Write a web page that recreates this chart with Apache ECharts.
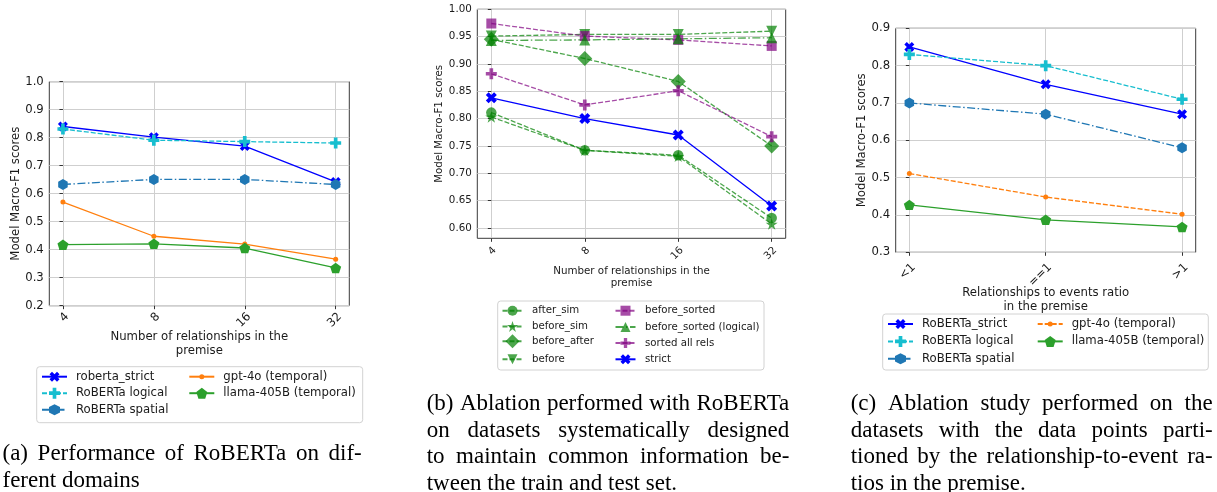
<!DOCTYPE html>
<html><head><meta charset="utf-8">
<script src="https://cdn.jsdelivr.net/npm/echarts@6/dist/echarts.min.js"></script>
<style>html,body{margin:0;padding:0;background:#fff}#c{width:1217px;height:492px}</style>
</head><body><div id="c"></div>
<script>
// ---------------- data ----------------
const relCounts = ['4', '8', '16', '32'];
const ratioCats = ['<1', '==1', '>1'];
const yTicksA = [0.2, 0.3, 0.4, 0.5, 0.6, 0.7, 0.8, 0.9, 1.0];
const yTicksB = [0.60, 0.65, 0.70, 0.75, 0.80, 0.85, 0.90, 0.95, 1.00];
const yTicksC = [0.3, 0.4, 0.5, 0.6, 0.7, 0.8, 0.9];

// (a) performance on different domains
const aRobertaStrict  = [0.840, 0.802, 0.770, 0.642];
const aRobertaLogical = [0.831, 0.791, 0.786, 0.781];
const aRobertaSpatial = [0.633, 0.651, 0.651, 0.633];
const aGpt4o          = [0.570, 0.448, 0.420, 0.366];
const aLlama          = [0.418, 0.421, 0.406, 0.335];

// (b) ablation
const bAfterSim             = [0.811, 0.742, 0.733, 0.618];
const bBeforeSim            = [0.803, 0.742, 0.731, 0.607];
const bBeforeAfter          = [0.945, 0.910, 0.868, 0.750];
const bBefore               = [0.951, 0.954, 0.954, 0.960];
const bBeforeSorted         = [0.974, 0.951, 0.944, 0.933];
const bBeforeSortedLogical  = [0.943, 0.944, 0.946, 0.948];
const bSortedAllRels        = [0.882, 0.825, 0.851, 0.767];
const bStrict               = [0.838, 0.800, 0.770, 0.640];

// (c) relationship-to-event ratio
const cRobertaStrict  = [0.850, 0.750, 0.670];
const cRobertaLogical = [0.830, 0.800, 0.710];
const cRobertaSpatial = [0.700, 0.670, 0.580];
const cGpt4o          = [0.511, 0.448, 0.402];
const cLlama          = [0.427, 0.387, 0.368];

// captions
const capA = ['(a) Performance of RoBERTa on dif-', 'ferent domains'];
const capB = ['(b) Ablation performed with RoBERTa', 'on datasets systematically designed',
              'to maintain common information be-', 'tween the train and test set.'];
const capC = ['(c) Ablation study performed on the', 'datasets with the data points parti-',
              'tioned by the relationship-to-event ra-', 'tios in the premise.'];

// ---------------- styling ----------------
const FONT = '"DejaVu Sans", sans-serif';
const TXT = '#1a1a1a';
const GRIDC = '#cfcfcf';
const SYM = {
  X: 'path://M1 0L2 1L3 0L4 1L3 2L4 3L3 4L2 3L1 4L0 3L1 2L0 1Z',
  P: 'path://M2 0L4 0L4 2L6 2L6 4L4 4L4 6L2 6L2 4L0 4L0 2L2 2Z',
  h: 'path://M0.866 0L1.732 0.5L1.732 1.5L0.866 2L0 1.5L0 0.5Z',
  p: 'path://M0.951 0L1.902 0.691L1.539 1.809L0.363 1.809L0 0.691Z',
  star: 'path://M0.951 0L1.176 0.691L1.902 0.691L1.314 1.118L1.539 1.809L0.951 1.382L0.363 1.809L0.588 1.118L0 0.691L0.727 0.691Z',
  v: 'path://M0 0L2 0L1 2Z',
  up: 'triangle', s: 'rect', D: 'diamond', o: 'circle'
};
const DASH = [5, 2];
const DASHDOT = [8, 2.5, 1.5, 2.5];

function mk(name, vals, gi, color, ltype, sym, size, op) {
  op = op == null ? 1 : op;
  return {
    type: 'line', name: name, xAxisIndex: gi, yAxisIndex: gi,
    data: vals.map((v, i) => [i, v]),
    symbol: SYM[sym], symbolSize: size, symbolKeepAspect: true, showAllSymbol: true,
    lineStyle: { color: color, width: 1.3, type: ltype, opacity: op },
    itemStyle: { color: color, opacity: op, borderWidth: 0 },
    emphasis: { disabled: true }, animation: false
  };
}

const grids = [
  { left: 49.3, top: 81.7, width: 300, height: 224 },
  { left: 477.3, top: 9.3, width: 308.4, height: 229 },
  { left: 895.7, top: 28.3, width: 300, height: 224 }
].map(g => Object.assign(g, { show: true, borderColor: '#3a3a3a', borderWidth: 1, backgroundColor: 'transparent', containLabel: false, outerBoundsMode: 'none' }));

function xAx(gi, cats, fs, margin, name, nameGap, lh) {
  const n = cats.length - 1;
  const pad = n * 0.05;
  const vals = cats.map((c, i) => i);
  return {
    type: 'value', gridIndex: gi, min: -pad, max: n + pad,
    axisLine: { show: false },
    axisTick: { show: true, customValues: vals, length: 3.5, lineStyle: { color: '#333', width: 1 } },
    axisLabel: { customValues: vals, formatter: v => cats[Math.round(v)], rotate: 45, align: 'right', verticalAlign: 'top',
                 margin: margin, fontSize: fs, fontFamily: FONT, color: TXT },
    splitLine: { show: true, lineStyle: { color: GRIDC, width: 1 } },
    name: name, nameLocation: 'middle', nameGap: nameGap, nameMoveOverlap: false,
    nameTextStyle: { fontSize: fs, fontFamily: FONT, color: TXT, lineHeight: lh, align: 'center' }
  };
}
function yAx(gi, ticks, min, max, digits, fs, nameGap) {
  return {
    type: 'value', gridIndex: gi, min: min, max: max,
    axisLine: { show: false },
    axisTick: { show: true, customValues: ticks, length: 3.5, lineStyle: { color: '#333', width: 1 } },
    axisLabel: { customValues: ticks, formatter: v => v.toFixed(digits), margin: 5.5, fontSize: fs, fontFamily: FONT, color: TXT },
    splitLine: { show: true, lineStyle: { color: GRIDC, width: 1 } },
    name: 'Model Macro-F1 scores', nameLocation: 'middle', nameGap: nameGap, nameMoveOverlap: false,
    nameTextStyle: { fontSize: fs, fontFamily: FONT, color: TXT }
  };
}

const FA = 11.7, FB = 10.3;
const xAxes = [
  xAx(0, relCounts, FA, 5, 'Number of relationships in the\npremise', 25, 13.3),
  xAx(1, relCounts, FB, 7, 'Number of relationships in the\npremise', 26.5, 12.3),
  xAx(2, ratioCats, FA, 9, 'Relationships to events ratio\nin the premise', 34.3, 13.4)
];
const yAxes = [
  yAx(0, yTicksA, 0.2, 1.0, 1, FA, 27),
  yAx(1, yTicksB, 0.581, 1.0, 2, FB, 33.3),
  yAx(2, yTicksC, 0.3, 0.9, 1, FA, 27.7)
];

const BLUE = '#0000ff', CYAN = '#17becf', TBLUE = '#1f77b4', ORANGE = '#ff7f0e', TGREEN = '#2ca02c';
const GREEN = '#008000', PURPLE = '#800080';
const series = [
  mk('roberta_strict', aRobertaStrict, 0, BLUE, 'solid', 'X', 10),
  mk('RoBERTa logical', aRobertaLogical, 0, CYAN, DASH, 'P', 11),
  mk('RoBERTa spatial', aRobertaSpatial, 0, TBLUE, DASHDOT, 'h', 11),
  mk('gpt-4o (temporal)', aGpt4o, 0, ORANGE, 'solid', 'o', 5),
  mk('llama-405B (temporal)', aLlama, 0, TGREEN, 'solid', 'p', 11),

  mk('after_sim', bAfterSim, 1, GREEN, DASH, 'o', 10.5, 0.7),
  mk('before_sim', bBeforeSim, 1, GREEN, DASH, 'star', 12, 0.7),
  mk('before_after', bBeforeAfter, 1, GREEN, DASH, 'D', 15, 0.7),
  mk('before', bBefore, 1, GREEN, DASH, 'v', 11, 0.7),
  mk('before_sorted', bBeforeSorted, 1, PURPLE, DASH, 's', 10, 0.7),
  mk('before_sorted (logical)', bBeforeSortedLogical, 1, GREEN, DASHDOT, 'up', 11, 0.7),
  mk('sorted all rels', bSortedAllRels, 1, PURPLE, DASH, 'P', 11, 0.7),
  mk('strict', bStrict, 1, BLUE, 'solid', 'X', 11),

  mk('RoBERTa_strict', cRobertaStrict, 2, BLUE, 'solid', 'X', 10),
  mk('RoBERTa logical', cRobertaLogical, 2, CYAN, DASH, 'P', 11),
  mk('RoBERTa spatial', cRobertaSpatial, 2, TBLUE, DASHDOT, 'h', 11),
  mk('gpt-4o (temporal) ', cGpt4o, 2, ORANGE, DASH, 'o', 5),
  mk('llama-405B (temporal)', cLlama, 2, TGREEN, 'solid', 'p', 11)
];

// legends: one component per entry for exact placement
function lg(name, x, cy, iw, markerSize, fs, pad) {
  const ih = markerSize / 0.8;
  const lh = fs * 1.25;
  const H = Math.max(ih, lh);
  return {
    data: [name], left: x, top: cy - H / 2, orient: 'horizontal', padding: 0, itemGap: 0,
    itemWidth: iw, itemHeight: ih, selectedMode: false, z: 5,
    formatter: n => n.trim(),
    textStyle: { fontSize: fs, fontFamily: FONT, color: TXT, lineHeight: lh, padding: [0, 0, 0, pad] }
  };
}
const legends = [
  lg('roberta_strict', 41, 376.7, 25, 10, FA, 4),
  lg('RoBERTa logical', 41, 393.2, 25, 11, FA, 4),
  lg('RoBERTa spatial', 41, 409.7, 25, 11, FA, 4),
  lg('gpt-4o (temporal)', 188.3, 376.7, 25, 5, FA, 4),
  lg('llama-405B (temporal)', 188.3, 393.2, 25, 11, FA, 4),

  lg('after_sim', 501.5, 310.7, 20, 10, 10.2, 4.5),
  lg('before_sim', 501.5, 326.9, 20, 11, 10.2, 4.5),
  lg('before_after', 501.5, 343.1, 20, 14, 10.2, 4.5),
  lg('before', 501.5, 359.3, 20, 10, 10.2, 4.5),
  lg('before_sorted', 614.5, 310.7, 20, 10, 10.2, 4.5),
  lg('before_sorted (logical)', 614.5, 326.9, 20, 10, 10.2, 4.5),
  lg('sorted all rels', 614.5, 343.1, 20, 10, 10.2, 4.5),
  lg('strict', 614.5, 359.3, 20, 10, 10.2, 4.5),

  lg('RoBERTa_strict', 887, 324, 25, 10, FA, 4),
  lg('RoBERTa logical', 887, 341.4, 25, 11, FA, 4),
  lg('RoBERTa spatial', 887, 358.7, 25, 11, FA, 4),
  lg('gpt-4o (temporal) ', 1036.7, 324, 25, 5, FA, 4),
  lg('llama-405B (temporal)', 1036.7, 341.4, 25, 11, FA, 4)
];

// graphics: legend frames + justified captions
const graphics = [];
function frame(x0, y0, x1, y1) {
  graphics.push({ type: 'rect', z: 1, silent: true, shape: { x: x0, y: y0, width: x1 - x0, height: y1 - y0, r: 3 },
    style: { fill: 'rgba(255,255,255,0.85)', stroke: '#d2d2d2', lineWidth: 1 } });
}
frame(36.7, 366.7, 362.7, 422.7);
frame(497.7, 301, 764, 370);
frame(882.7, 314, 1208.3, 370);

const CAP_FS = 23;
const CAP_FONT = CAP_FS + 'px "Liberation Serif", "Times New Roman", serif';
const mctx = document.createElement('canvas').getContext('2d');
mctx.font = CAP_FONT;
function caption(lines, x0, width, base0, lh) {
  const spaceW = mctx.measureText(' ').width;
  lines.forEach((line, li) => {
    const words = line.split(' ');
    const ws = words.map(w => mctx.measureText(w).width);
    const tot = ws.reduce((a, b) => a + b, 0);
    const last = li === lines.length - 1;
    const gap = (last || words.length < 2) ? spaceW : (width - tot) / (words.length - 1);
    let x = x0;
    const y = base0 + li * lh - CAP_FS * 0.11;
    words.forEach((w, i) => {
      graphics.push({ type: 'text', x: x, y: y, silent: true, z: 2,
        style: { text: w, font: CAP_FONT, fill: '#000', align: 'left', verticalAlign: 'middle', textAlign: 'left', textVerticalAlign: 'middle' } });
      x += ws[i] + gap;
    });
  });
}
caption(capA, 2.5, 359.2, 456.7, 26.6);
caption(capB, 426.7, 362.6, 406.7, 26.6);
caption(capC, 850.7, 362, 406.7, 26.6);

const chart = echarts.init(document.getElementById('c'), null, { renderer: 'canvas' });
chart.setOption({
  animation: false,
  backgroundColor: '#ffffff',
  grid: grids,
  xAxis: xAxes,
  yAxis: yAxes,
  legend: legends,
  series: series,
  graphic: { elements: graphics }
});
</script>
</body></html>
